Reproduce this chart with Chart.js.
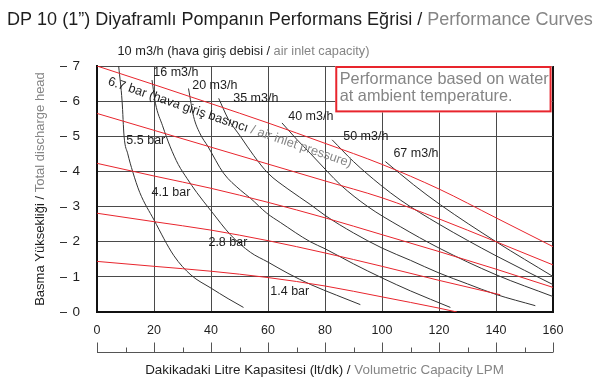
<!DOCTYPE html>
<html>
<head>
<meta charset="utf-8">
<script src="https://cdn.jsdelivr.net/npm/chart.js@4.4.1/dist/chart.umd.min.js"></script>
<style>
  html, body { margin: 0; padding: 0; background: #fff; }
  #wrap { width: 600px; height: 387px; }
</style>
</head>
<body>
<div id="wrap"><canvas id="pumpChart" width="600" height="387"></canvas></div>
<script>
// ====================================================
// DP 10 (1") performance curves - x: LPM, y: head (bar)
// ====================================================

const xTicks = [0, 20, 40, 60, 80, 100, 120, 140, 160];
const yTicks = [0, 1, 2, 3, 4, 5, 6, 7];

// air inlet pressure lines (red)
const bar67 = [[0, 7], [20, 6.47], [40, 5.93], [60, 5.38], [80, 4.8], [100, 4.2], [120, 3.5], [140, 2.68], [160, 1.86]];
const bar55 = [[0, 5.65], [20, 5.17], [40, 4.69], [60, 4.21], [80, 3.73], [100, 3.25], [120, 2.65], [140, 2.0], [160, 1.34]];
const bar41 = [[0, 4.23], [20, 3.87], [40, 3.52], [60, 3.12], [80, 2.68], [100, 2.2], [120, 1.72], [140, 1.22], [160, 0.7]];
const bar28 = [[0, 2.81], [20, 2.57], [40, 2.33], [60, 2.03], [80, 1.68], [100, 1.3], [120, 0.9], [141.5, 0.49]];
const bar14 = [[0, 1.44], [20, 1.3], [40, 1.16], [60, 0.98], [80, 0.74], [100, 0.43], [120, 0.11], [126.3, 0]];

// air consumption curves (black)
const air10 = [[7.6, 7], [8.8, 6], [9.5, 5], [10.8, 4.5], [12.5, 4], [15, 3.4], [20, 2.62], [27, 1.6], [33, 1.05], [40, 0.68], [46, 0.38], [51.4, 0.13]];
const air16 = [[19.3, 6.6], [20.5, 5.94], [23, 5.3], [25.7, 4.7], [28.5, 4.2], [31.6, 3.8], [35, 3.4], [40, 2.88], [46.8, 2.2], [53.8, 1.7], [60, 1.42], [67, 1.1], [75, 0.78], [84, 0.48], [92.4, 0.21]];
const air20 = [[32.1, 6.36], [33.9, 5.56], [36, 5.1], [39, 4.7], [44.4, 3.95], [50.3, 3.47], [53.8, 3.24], [59.6, 2.81], [64.3, 2.55], [74.8, 2.0], [80, 1.8], [90, 1.37], [100, 0.97], [110, 0.6], [124, 0.13]];
const air35 = [[42.7, 6.08], [46, 5.5], [50.3, 5.0], [55, 4.45], [60, 3.95], [67, 3.5], [75, 3.05], [80, 2.75], [90, 2.25], [100, 1.82], [110, 1.47], [120, 1.11], [130, 0.8], [140, 0.5], [153.8, 0.18]];
const air40 = [[64.9, 5.38], [70, 4.92], [75, 4.5], [80.8, 4.0], [85.4, 3.62], [95, 3.0], [106.4, 2.43], [120, 1.82], [140, 1.06], [160, 0.44]];
const air50 = [[82.5, 4.9], [90, 4.28], [99.4, 3.62], [106.4, 3.19], [120, 2.5], [140, 1.6], [160, 0.78]];
const air67 = [[101.2, 4.28], [111.1, 3.62], [120.5, 3.05], [140, 2.0], [160, 1.01]];

// curve labels and where they sit (data units, left/middle of text)
const airLabels = ["16 m3/h", "20 m3/h", "35 m3/h", "40 m3/h", "50 m3/h", "67 m3/h"];
const airLabelAt = [[19.75, 6.8], [33.4, 6.43], [47.8, 6.06], [67.1, 5.57], [86.4, 4.98], [104, 4.5]];
const barLabels = ["5.5 bar", "4.1 bar", "2.8 bar", "1.4 bar"];
const barLabelAt = [[10.3, 4.89], [19.1, 3.39], [39.1, 1.97], [60.8, 0.58]];

const FONT = '"Liberation Sans", Arial, Helvetica, sans-serif';
const DARK = "#1e1e1e";
const GREY = "#858585";
const RED = "#e8252d";
const CURVE = "#333333";

const toPts = (arr) => arr.map((p) => ({ x: p[0], y: p[1] }));

function lineSet(arr, color) {
  return {
    data: toPts(arr),
    showLine: true,
    borderColor: color,
    borderWidth: 1,
    pointRadius: 0,
    cubicInterpolationMode: "monotone",
  };
}

// fit a font size so that the text spans a given width
function fitSize(c, parts, width, base) {
  c.font = base + "px " + FONT;
  const w = parts.reduce((s, p) => s + c.measureText(p[0]).width, 0);
  return base * width / w;
}

function drawParts(c, parts, x, y, align) {
  const total = parts.reduce((s, p) => s + c.measureText(p[0]).width, 0);
  let cx = align === "center" ? x - total / 2 : x;
  c.textAlign = "left";
  parts.forEach((p) => {
    c.fillStyle = p[1];
    c.fillText(p[0], cx, y);
    cx += c.measureText(p[0]).width;
  });
}

const sheetPlugin = {
  id: "sheet",
  afterDraw(chart) {
    const c = chart.ctx;
    const xs = chart.scales.x;
    const ys = chart.scales.y;
    const area = chart.chartArea;
    c.save();
    c.textBaseline = "middle";

    // title
    const title = [["DP 10 (1\u201d) Diyaframl\u0131 Pompan\u0131n Performans E\u011frisi / ", DARK], ["Performance Curves", GREY]];
    c.font = fitSize(c, title, 586, 16) + "px " + FONT;
    drawParts(c, title, 7, 20, "left");

    // top note for the air capacity curves
    const topNote = [["10 m3/h (hava giri\u015f debisi / ", DARK], ["air inlet capacity)", GREY]];
    c.font = fitSize(c, topNote, 252, 12) + "px " + FONT;
    drawParts(c, topNote, xs.getPixelForValue(7.2), ys.getPixelForValue(7.4), "left");

    // curve labels
    c.font = "12.5px " + FONT;
    airLabels.forEach((t, i) => {
      drawParts(c, [[t, DARK]], xs.getPixelForValue(airLabelAt[i][0]), ys.getPixelForValue(airLabelAt[i][1]), "left");
    });
    barLabels.forEach((t, i) => {
      drawParts(c, [[t, DARK]], xs.getPixelForValue(barLabelAt[i][0]), ys.getPixelForValue(barLabelAt[i][1]), "left");
    });

    // rotated pressure label along the 6.7 bar line
    const pressNote = [["6.7 bar (hava giri\u015f bas\u0131nc\u0131 ", DARK], ["/ air inlet pressure)", GREY]];
    c.save();
    c.translate(xs.getPixelForValue(4.0), ys.getPixelForValue(6.57));
    c.rotate(18.8 * Math.PI / 180);
    c.font = fitSize(c, pressNote, 257, 12) + "px " + FONT;
    drawParts(c, pressNote, 0, 0, "left");
    c.restore();

    // note box
    const bx0 = xs.getPixelForValue(83.6), bx1 = xs.getPixelForValue(159.5);
    const by0 = ys.getPixelForValue(7.0), by1 = ys.getPixelForValue(5.68);
    c.fillStyle = "#fff";
    c.fillRect(bx0, by0, bx1 - bx0, by1 - by0);
    c.strokeStyle = RED;
    c.lineWidth = 2;
    c.strokeRect(bx0 + 1, by0 + 1, bx1 - bx0 - 2, by1 - by0 - 2);
    const boxLine = [["Performance based on water", GREY]];
    c.font = fitSize(c, boxLine, 209, 15) + "px " + FONT;
    drawParts(c, boxLine, bx0 + 4.5, by0 + 13.5, "left");
    drawParts(c, [["at ambient temperature.", GREY]], bx0 + 4.5, by0 + 30.5, "left");

    // y tick dashes, left of the labels
    c.strokeStyle = "#333";
    c.lineWidth = 1;
    yTicks.forEach((v) => {
      const py = Math.round(ys.getPixelForValue(v)) + 0.5;
      c.beginPath();
      c.moveTo(area.left - 37, py);
      c.lineTo(area.left - 30, py);
      c.stroke();
    });

    // y axis title
    const yTitle = [["Basma Y\u00fcksekli\u011fi / ", DARK], ["Total discharge head", GREY]];
    c.save();
    c.translate(40, (area.top + area.bottom) / 2);
    c.rotate(-Math.PI / 2);
    c.font = fitSize(c, yTitle, 234, 13) + "px " + FONT;
    drawParts(c, yTitle, 0, 0, "center");
    c.restore();

    // secondary x ruler below the tick labels
    const ry = area.bottom + 40.5;
    c.strokeStyle = "#555";
    c.lineWidth = 1;
    c.beginPath();
    c.moveTo(xs.getPixelForValue(0), ry);
    c.lineTo(xs.getPixelForValue(160), ry);
    for (let v = 0; v <= 160; v += 10) {
      const px = Math.round(xs.getPixelForValue(v)) + 0.5;
      c.moveTo(px, ry);
      c.lineTo(px, ry - (v % 20 === 0 ? 10 : 5));
    }
    c.stroke();

    // x axis title
    const xTitle = [["Dakikadaki Litre Kapasitesi (lt/dk) / ", DARK], ["Volumetric Capacity LPM", GREY]];
    c.font = fitSize(c, xTitle, 359, 13) + "px " + FONT;
    drawParts(c, xTitle, (area.left + area.right) / 2 - 0.5, area.bottom + 58, "center");

    c.restore();
  },
};

new Chart(document.getElementById("pumpChart"), {
  type: "scatter",
  data: {
    datasets: [
      lineSet(bar67, RED), lineSet(bar55, RED), lineSet(bar41, RED), lineSet(bar28, RED), lineSet(bar14, RED),
      lineSet(air10, CURVE), lineSet(air16, CURVE), lineSet(air20, CURVE), lineSet(air35, CURVE),
      lineSet(air40, CURVE), lineSet(air50, CURVE), lineSet(air67, CURVE),
    ],
  },
  options: {
    responsive: false,
    animation: false,
    events: [],
    layout: { padding: { top: 66, right: 47, left: 0, bottom: 0 } },
    plugins: { legend: { display: false }, tooltip: { enabled: false } },
    scales: {
      x: {
        type: "linear",
        min: 0,
        max: 160,
        afterBuildTicks: (s) => { s.ticks = xTicks.map((v) => ({ value: v })); },
        afterFit: (s) => { s.height = 75; },
        ticks: { padding: 11, color: DARK, font: { family: FONT, size: 12.5 } },
        grid: {
          drawTicks: false,
          color: (ctx) => (ctx.tick && ctx.tick.value === 160 ? "#111" : "#4a4a4a"),
          lineWidth: (ctx) => (ctx.tick && ctx.tick.value === 160 ? 2 : 1),
        },
        border: { color: "#111", width: 2 },
      },
      y: {
        min: 0,
        max: 7,
        afterBuildTicks: (s) => { s.ticks = yTicks.map((v) => ({ value: v })); },
        afterFit: (s) => { s.width = 97; },
        ticks: { padding: 17, color: DARK, font: { family: FONT, size: 13.5 } },
        grid: { drawTicks: false, color: "#4a4a4a", lineWidth: 1 },
        border: { color: "#111", width: 2 },
      },
    },
  },
  plugins: [sheetPlugin],
});
</script>
</body>
</html>
